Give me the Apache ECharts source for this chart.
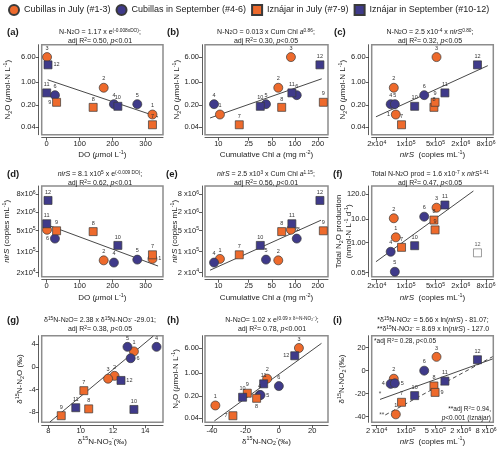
<!DOCTYPE html>
<html>
<head>
<meta charset="utf-8">
<script src="https://cdn.jsdelivr.net/npm/echarts@6/dist/echarts.min.js"></script>
<style>
  html, body { margin: 0; background: #fff; }
  #chart { width: 500px; height: 455px; }
</style>
</head>
<body>
<div id="chart"></div>
<script>
// sample values (#1..#12)
const sampleIds = [1, 2, 3, 4, 5, 6, 7, 8, 9, 10, 11, 12];
const doConc  = [321, 173, 1, 204, 275, 25, 321, 141, 30, 216, 0, 4];
const cumChlA = [10.5, 60.8, 89, 8.8, 42, 106, 18.8, 67.4, 236, 35.4, 91.6, 213];
const nirS    = [5.7e4, 5.1e4, 5.3e5, 4.3e4, 5.4e4, 2.7e5, 7.8e4, 4.6e5, 4.9e5, 1.6e5, 8.4e5, 5.0e6];
const n2o     = [0.10, 0.68, 6.1, 0.21, 0.21, 0.40, 0.048, 0.167, 0.24, 0.18, 0.47, 3.5];
const n2oProd = [1.68, 11.1, 31.7, 0.40, 0.055, 13, 0.62, 9.3, 3.5, 0.73, 41.4, 0.36];
const d15NO3  = [13.3, 12.1, 11.7, 14.7, 12.9, 13.1, 10.2, 10.5, 8.8, 13.3, 9.7, 12.5];
const d15N2O  = [2.7, -1.6, -2.1, 3.5, 3.5, 1.5, -4.2, -7.4, -8.6, -7.5, -7.2, -2.4];
const d15NO2  = [-38, -7, 12, -11.5, -11, 0, -27.5, -13.3, -18.9, -21.7, -9.1, 9.5];

// regression line end points [x, y]
const fitA = [[3, 1.2], [338, 0.084]];
const fitB = [[7.8, 0.078], [225, 1.29]];
const fitC = [[1.92e4, 0.085], [8.8e6, 3.3]];
const fitD = [[3, 7.6e5], [338, 3.3e4]];
const fitE = [[7.8, 2.4e4], [220, 1.1e6]];
const fitF = [[1.92e4, 0.149], [4.0e6, 166]];
const fitG = [[8.1, -9.7], [14.5, 5.4]];
const fitH = [[-38.6, 0.033], [25.5, 8.5]];
const fitI1 = [[2.4e4, -25], [1.15e7, 10.2]];
const fitI2 = [[3.2e4, -38.5], [1.15e7, 12.2]];

// tick values and labels
const doTicks = [0, 100, 200, 300];
const doLabels = ['0', '100', '200', '300'];
const n2oTicks = [0.04, 0.2, 1, 6];
const n2oLabels = ['0.04', '0.20', '1.00', '6.00'];
const chlTicks = [10, 25, 50, 100, 200];
const chlLabels = ['10', '25', '50', '100', '200'];
const nirSTicks = [2e4, 1e5, 5e5, 2e6, 8e6];
const nirSLabels = ['2x10{sup|4}', '1x10{sup|5}', '5x10{sup|5}', '2x10{sup|6}', '8x10{sup|6}'];
const nirSLabelsSp = ['2 x10{sup|4}', '1 x10{sup|5}', '5 x10{sup|5}', '2 x10{sup|6}', '8 x10{sup|6}'];
const nirSLabelsI = ['2 x10{sup|4}', '1x10{sup|5}', '5 x10{sup|5}', '2 x10{sup|6}', '8 x10{sup|6}'];
const prodTicks = [0.05, 1, 10, 120];
const prodLabels = ['0.05', '1.00', '10.0', '120.0'];
const no3Ticks = [8, 10, 12, 14];
const n2oIsoTicks = [-8, -4, 0, 4];
const no2Ticks = [-40, -20, 0, 20];

const FONT = '"Liberation Sans", Arial, Helvetica, sans-serif';
const ORANGE = '#EE6A2C';
const PURPLE = '#3F3A8A';

function richSet(size) {
  const s = Math.round(size * 0.68 * 10) / 10;
  return {
    sup: { fontSize: s, fontFamily: FONT, verticalAlign: 'top', lineHeight: s + 1 },
    sub: { fontSize: s, fontFamily: FONT, verticalAlign: 'bottom', lineHeight: s + 1 },
    it: { fontSize: size, fontFamily: FONT, fontStyle: 'italic' }
  };
}

const groups = [
  { name: 'Cubillas in July (#1-3)', ids: [1, 2, 3], symbol: 'circle', color: ORANGE },
  { name: 'Cubillas in September (#4-6)', ids: [4, 5, 6], symbol: 'circle', color: PURPLE },
  { name: 'Iznájar in July (#7-9)', ids: [7, 8, 9], symbol: 'rect', color: ORANGE },
  { name: 'Iznájar in September (#10-12)', ids: [10, 11, 12], symbol: 'rect', color: PURPLE }
];

// axis specs
const axDO   = { log: false, range: [-15.2, 353], ticks: doTicks, labels: doLabels, name: 'DO ({it|μ}mol L{sup|-1})' };
const axN2O  = { log: true, range: [0.0236, 14.8], ticks: n2oTicks, labels: n2oLabels, name: 'N{sub|2}O ({it|μ}mol-N L{sup|-1})' };
const axChl  = { log: true, range: [6.7, 271.6], ticks: chlTicks, labels: chlLabels, name: 'Cumulative Chl {it|a} (mg m{sup|-2})' };
const axNirX = { log: true, range: [1.52e4, 1.19e7], ticks: nirSTicks, labels: nirSLabels, name: '{it|nirS}  (copies mL{sup|-1})' };
const axNirXi = Object.assign({}, axNirX, { labels: nirSLabelsI });
const axNirY = { log: true, range: [1.46e4, 1.51e7], ticks: nirSTicks, labels: nirSLabels, name: '{it|nirS} (copies mL{sup|-1})' };
const axNirYe = Object.assign({}, axNirY, { labels: nirSLabelsSp });
const axProd = { log: true, range: [0.0337, 273], ticks: prodTicks, labels: prodLabels, name: 'Total N{sub|2}O production\n(nmol-N L{sup|-1} d{sup|-1})' };
const axNO3  = { log: false, range: [7.59, 15.1], ticks: no3Ticks, labels: no3Ticks.map(String), name: 'δ{sup|15}N-NO{sub|3}{sup|-}(‰)' };
const axIso  = { log: false, range: [-9.76, 5.46], ticks: n2oIsoTicks, labels: n2oIsoTicks.map(String), name: 'δ{sup|15}N-N{sub|2}O (‰)' };
const axNO2x = { log: false, range: [-44.2, 29.4], ticks: no2Ticks, labels: no2Ticks.map(String), name: 'δ{sup|15}N-NO{sub|2}{sup|-}(‰)' };
const axN2Oh = Object.assign({}, axN2O, { range: [0.030, 14.7] });
const axNO2y = { log: false, range: [-44.9, 30.4], ticks: no2Ticks, labels: no2Ticks.map(String), name: 'δ{sup|15}N-NO{sub|2}{sup|-}(‰)' };

const colLeft = [41.7, 205, 371.7], colWidth = [121.3, 123, 121.6];
const rowTop = [44.7, 186, 335.7], rowHeight = [90, 90.7, 86.6];

const panels = [
  { x: doConc, y: n2o, xa: axDO, ya: axN2O, fits: [fitA], lab: { 12: 'right', 9: 'left' }, xGap: 12, yGap: 26 },
  { x: cumChlA, y: n2o, xa: axChl, ya: axN2O, fits: [fitB], lab: {}, xGap: 12, yGap: 20 },
  { x: nirS, y: n2o, xa: axNirX, ya: axN2O, fits: [fitC], lab: { 1: 'left' }, xGap: 12, yGap: 21 },
  { x: doConc, y: nirS, xa: axDO, ya: axNirY, fits: [fitD], lab: { 6: 'left', 1: 'right', 3: 'none' }, xGap: 13, yGap: 27 },
  { x: cumChlA, y: nirS, xa: axChl, ya: axNirYe, fits: [fitE], lab: { 3: 'right' }, xGap: 13, yGap: 22 },
  { x: nirS, y: n2oProd, xa: axNirX, ya: axProd, fits: [fitF], lab: {}, xGap: 13, yGap: 15, hollow: [12] },
  { x: d15NO3, y: d15N2O, xa: axNO3, ya: axIso, fits: [fitG], lab: { 6: 'right', 12: 'right' }, xGap: 11, yGap: 14 },
  { x: d15NO2, y: n2o, xa: axNO2x, ya: axN2Oh, fits: [fitH], lab: { 7: 'left', 8: 'bottom', 5: 'right', 12: 'left' }, xGap: 11, yGap: 21 },
  { x: nirS, y: d15NO2, xa: axNirXi, ya: axNO2y, fits: [fitI1, fitI2], dashed: [false, true], lab: { 4: 'left', 5: 'right', 9: 'right' }, xGap: 11, yGap: 22 }
];

const tf = log => (log ? v => Math.log10(v) : v => v);

function makeAxis(dim, gi, a, gap) {
  const f = tf(a.log);
  const tv = a.ticks.map(f);
  return {
    type: 'value', gridIndex: gi, min: f(a.range[0]), max: f(a.range[1]),
    position: dim === 'x' ? 'bottom' : 'left', offset: 3,
    name: a.name, nameLocation: 'middle', nameGap: gap, nameMoveOverlap: false,
    nameTextStyle: { fontFamily: FONT, fontSize: 8, color: '#222', lineHeight: 10, rich: richSet(8) },
    axisLine: { show: true, onZero: false, lineStyle: { color: '#333', width: 0.8 } },
    axisTick: { show: true, customValues: tv, length: 3, lineStyle: { color: '#333', width: 0.8 } },
    axisLabel: {
      customValues: tv, margin: dim === 'x' ? 2 : 3, fontFamily: FONT, fontSize: 7.5, color: '#222', rich: richSet(7.5),
      formatter: v => { const i = tv.findIndex(t => Math.abs(t - v) < 1e-9); return i < 0 ? '' : a.labels[i]; }
    },
    splitLine: { show: false }
  };
}

const grid = [], xAxis = [], yAxis = [], series = [];
panels.forEach((p, gi) => {
  const r = Math.floor(gi / 3), c = gi % 3;
  grid.push({ left: colLeft[c], top: rowTop[r], width: colWidth[c], height: rowHeight[r],
    show: true, borderColor: '#8c8c8c', borderWidth: 1.5, backgroundColor: 'transparent' });
  xAxis.push(makeAxis('x', gi, p.xa, p.xGap));
  yAxis.push(makeAxis('y', gi, p.ya, p.yGap));
  const fx = tf(p.xa.log), fy = tf(p.ya.log);
  const hollow = p.hollow || [];
  groups.forEach(g => {
    const data = g.ids.filter(id => !hollow.includes(id)).map(id => {
      const item = { value: [fx(p.x[id - 1]), fy(p.y[id - 1]), id] };
      const pos = p.lab[id];
      if (pos) item.label = pos === 'none' ? { show: false } : { position: pos };
      return item;
    });
    series.push({
      type: 'scatter', name: g.name, xAxisIndex: gi, yAxisIndex: gi,
      symbol: g.symbol, symbolSize: g.symbol === 'rect' ? 8 : 9,
      itemStyle: { color: g.color, borderColor: '#3a3a3a', borderWidth: 0.7, opacity: 1 },
      label: { show: true, position: 'top', distance: 1, fontSize: 5.5, color: '#333', fontFamily: FONT, formatter: q => q.value[2] },
      data, z: 4
    });
  });
  if (hollow.length) {
    series.push({
      type: 'scatter', name: 'excluded', xAxisIndex: gi, yAxisIndex: gi, symbol: 'rect', symbolSize: 8,
      itemStyle: { color: '#fff', borderColor: '#666', borderWidth: 0.8 },
      label: { show: true, position: 'top', distance: 1, fontSize: 5.5, color: '#333', fontFamily: FONT, formatter: q => q.value[2] },
      data: hollow.map(id => ({ value: [fx(p.x[id - 1]), fy(p.y[id - 1]), id] })), z: 4
    });
  }
  p.fits.forEach((fit, k) => {
    series.push({
      type: 'line', xAxisIndex: gi, yAxisIndex: gi, symbol: 'none', silent: true, z: 2,
      lineStyle: { color: '#333', width: 0.9, type: p.dashed && p.dashed[k] ? [4, 3] : 'solid' },
      data: fit.map(d => [fx(d[0]), fy(d[1])])
    });
  });
  if (p.dashed) {
    series.push({
      type: 'scatter', xAxisIndex: gi, yAxisIndex: gi, symbolSize: 0, silent: true, z: 3,
      label: { show: true, fontSize: 6.5, color: '#222', fontFamily: FONT, formatter: q => q.value[2] },
      data: [
        { value: [fx(p.fits[0][0][0]), fy(p.fits[0][0][1]), '*'], label: { position: 'top', distance: 2 } },
        { value: [fx(p.fits[1][0][0]), fy(p.fits[1][0][1]), '**'], label: { position: 'left', distance: 1 } }
      ]
    });
  }
});

// panel letters and equation titles
const letters = ['(a)', '(b)', '(c)', '(d)', '(e)', '(f)', '(g)', '(h)', '(i)'];
const letterPos = [[7, 32], [167, 32], [334, 32], [7, 174], [166, 174], [333, 174], [7, 320], [167, 320], [333, 320]];
const titles = [
  ['N-N{sub|2}O = 1.17 x e{sup|(-0.008xDO)};', 'adj R{sup|2}= 0.50, {it|p}<0.01'],
  ['N-N{sub|2}O = 0.013 x Cum Chl {it|a}{sup|0.86};', 'adj R{sup|2}= 0.30, {it|p}<0.05'],
  ['N-N{sub|2}O = 2.5 x10{sup|-4} x {it|nirS}{sup|0.80};', 'adj R{sup|2}= 0.32, {it|p}<0.05'],
  ['{it|nirS} = 8.1 x10{sup|5} x e{sup|(-0.009 DO)};', 'adj R{sup|2}= 0.62, {it|p}<0.01'],
  ['{it|nirS} = 2.5 x10{sup|3} x Cum Chl {it|a}{sup|1.15};', 'adj R{sup|2}= 0.56, {it|p}<0.01'],
  ['Total N-N{sub|2}O prod = 1.6 x10{sup|-7} x {it|nirS}{sup|1.41}', 'adj R{sup|2}= 0.47, {it|p}<0.05'],
  ['δ{sup|15}N-N{sub|2}O= 2.38 x δ{sup|15}N-NO{sub|3}{sup|-} -29.01;', 'adj R{sup|2}= 0.38, {it|p}<0.05'],
  ['N-N{sub|2}O= 1.02 x e{sup|(0.09 x δ¹⁵N-NO₂⁻)};', 'adj R{sup|2}= 0.78, {it|p}<0.001'],
  ['*δ{sup|15}N-NO{sub|2}{sup|-} = 5.66 x ln({it|nirS}) - 81.07;', '**δ{sup|15}N-NO{sub|2}{sup|-} = 8.69 x ln({it|nirS}) - 127.0']
];
const titleCx = [100, 266, 430, 100, 266, 430, 100, 272, 433];
const titleY = [[32, 41], [32, 41], [32, 41], [174, 183], [174, 183], [174, 183], [320, 329], [320, 329], [320, 329]];

const graphic = [];
function addText(x, y, text, size, align, weight) {
  graphic.push({
    type: 'text', x, y, silent: true,
    style: {
      text, fill: '#1a1a1a', fontSize: size, fontFamily: FONT, fontWeight: weight || 'normal',
      align, textAlign: align, verticalAlign: 'middle', textVerticalAlign: 'middle', rich: richSet(size)
    }
  });
}
letters.forEach((t, i) => addText(letterPos[i][0], letterPos[i][1], t, 9.5, 'left', 'bold'));
titles.forEach((t, i) => {
  addText(titleCx[i], titleY[i][0], t[0], 7, 'center');
  addText(titleCx[i], titleY[i][1], t[1], 7, 'center');
});
addText(374, 341, '*adj R{sup|2}= 0.28, {it|p}<0.05', 6.5, 'left');
addText(491, 409, '**adj R{sup|2}= 0.94,', 6.5, 'right');
addText(491, 418, '{it|p}<0.001 (Iznájar)', 6.5, 'right');

const chart = echarts.init(document.getElementById('chart'), null, { renderer: 'canvas' });
chart.setOption({
  animation: false,
  backgroundColor: '#fff',
  legend: {
    data: groups.map(g => g.name), left: 8, top: 4, width: 495, padding: 0,
    itemWidth: 10, itemHeight: 10, itemGap: 5,
    selectedMode: false, textStyle: { fontFamily: FONT, fontSize: 9, color: '#222' }
  },
  grid, xAxis, yAxis, series, graphic
});
</script>
</body>
</html>
